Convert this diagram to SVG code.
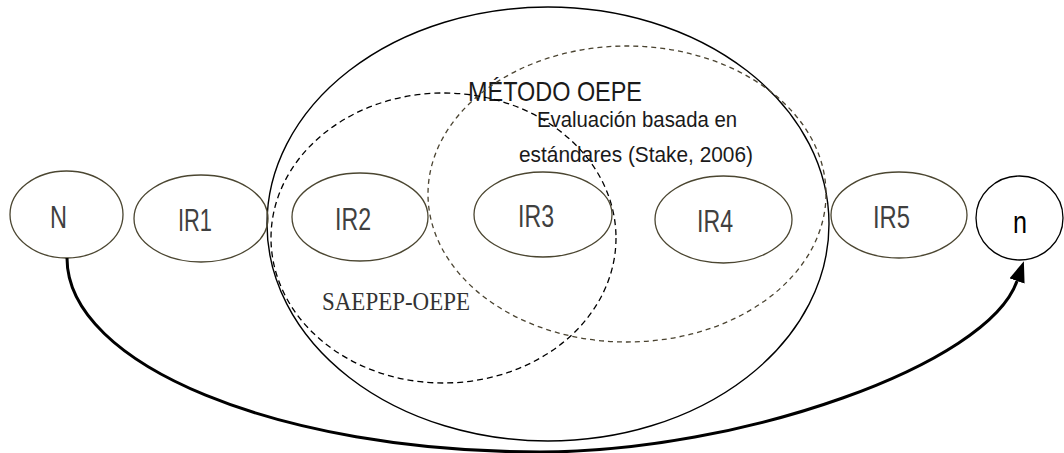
<svg xmlns="http://www.w3.org/2000/svg" width="1064" height="453" viewBox="0 0 1064 453">
<defs>
<style>
.node{fill:none;stroke:#4b4631;stroke-width:1.3}
.lbl{font-family:"Liberation Sans",Arial,sans-serif;font-size:31px;fill:#404040;text-anchor:start}
.big{fill:none;stroke:#000;stroke-width:1.4}
.dashk{fill:none;stroke:#000;stroke-width:1.3;stroke-dasharray:6 4}
.dashb{fill:none;stroke:#4a4330;stroke-width:1.3;stroke-dasharray:5 4}
.txt{font-family:"Liberation Sans",Arial,sans-serif;fill:#1a1a1a}
.conn{fill:none;stroke:#000;stroke-width:3}
</style>
<marker id="arr" markerUnits="userSpaceOnUse" markerWidth="22" markerHeight="16" refX="0" refY="8" orient="auto">
<path d="M0,0 L21,8 L0,16 z" fill="#000"/>
</marker>
</defs>
<rect width="1064" height="453" fill="#fff"/>

<g id="metodo-oepe">
<ellipse class="big" cx="548" cy="224" rx="281" ry="217"/>
<text class="txt" x="468" y="101" font-size="28" textLength="174" lengthAdjust="spacingAndGlyphs">MÉTODO OEPE</text>
</g>

<g id="saepep-oepe">
<ellipse class="dashk" cx="443.5" cy="238" rx="172.5" ry="145"/>
<text x="322" y="310" font-family="'Liberation Serif','Times New Roman',serif" font-size="26" fill="#333" textLength="148" lengthAdjust="spacingAndGlyphs">SAEPEP-OEPE</text>
</g>

<g id="evaluacion-estandares">
<ellipse class="dashb" cx="627" cy="194" rx="199" ry="148"/>
<text class="txt" x="537" y="127" font-size="22" textLength="200" lengthAdjust="spacingAndGlyphs">Evaluación basada en</text>
<text class="txt" x="519" y="162" font-size="22" textLength="234" lengthAdjust="spacingAndGlyphs">estándares (Stake, 2006)</text>
</g>

<g id="node-N">
<ellipse class="node" cx="66.5" cy="214.5" rx="56.5" ry="43.5"/>
<text class="lbl" x="50" y="228" textLength="17" lengthAdjust="spacingAndGlyphs">N</text>
</g>
<g id="node-IR1">
<ellipse class="node" cx="201" cy="218.5" rx="67" ry="43.5"/>
<text class="lbl" x="178" y="231" textLength="34" lengthAdjust="spacingAndGlyphs">IR1</text>
</g>
<g id="node-IR2">
<ellipse class="node" cx="360" cy="217" rx="68" ry="44"/>
<text class="lbl" x="335" y="230" textLength="36" lengthAdjust="spacingAndGlyphs">IR2</text>
</g>
<g id="node-IR3">
<ellipse class="node" cx="543" cy="214.5" rx="69" ry="42.5"/>
<text class="lbl" x="518" y="227" textLength="36" lengthAdjust="spacingAndGlyphs">IR3</text>
</g>
<g id="node-IR4">
<ellipse class="node" cx="723.5" cy="219.5" rx="68.5" ry="43.5"/>
<text class="lbl" x="697" y="232" textLength="36" lengthAdjust="spacingAndGlyphs">IR4</text>
</g>
<g id="node-IR5">
<ellipse class="node" cx="899" cy="215" rx="68" ry="43"/>
<text class="lbl" x="873" y="228" textLength="37" lengthAdjust="spacingAndGlyphs">IR5</text>
</g>
<g id="node-n">
<ellipse cx="1019.5" cy="218" rx="43.5" ry="42" fill="none" stroke="#000" stroke-width="1.3"/>
<text class="lbl" x="1013" y="233" style="fill:#000" textLength="14" lengthAdjust="spacingAndGlyphs">n</text>
</g>

<g id="connectors">
<path class="conn" d="M67,258 C67,365 279,452 540,452 C740,452 988,365 1017,281" marker-end="url(#arr)"/>
</g>
</svg>
